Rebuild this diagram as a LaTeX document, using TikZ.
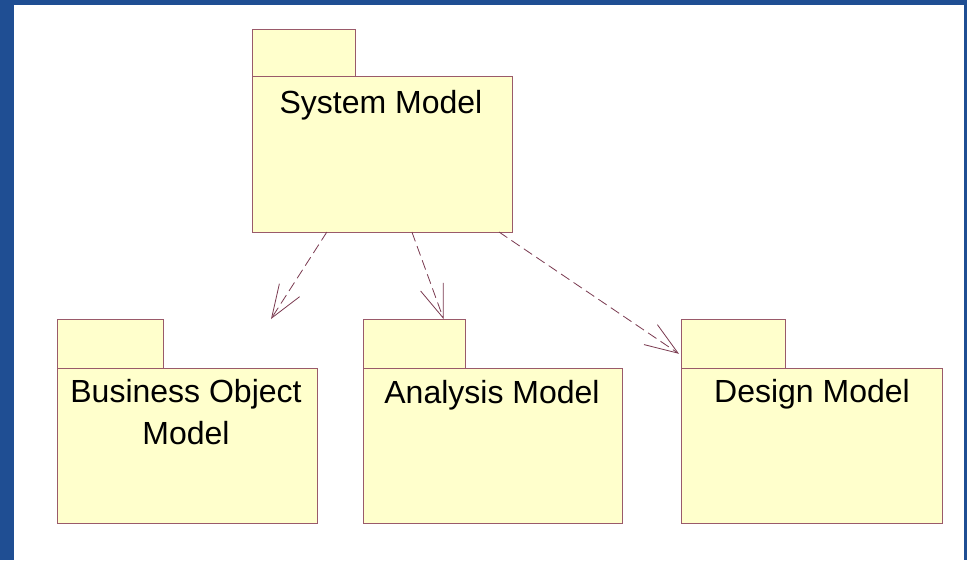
\documentclass[tikz,border=0pt]{standalone}
\usepackage{fontspec}
\setmainfont{Liberation Sans}
\usetikzlibrary{arrows.meta,calc}
\definecolor{bgblue}{HTML}{1F4E93}
\definecolor{pkgfill}{HTML}{FFFFCC}
\definecolor{pkgline}{HTML}{9A5A6A}
\definecolor{arrline}{HTML}{7A3A50}
\begin{document}
\begin{tikzpicture}[x=1pt,y=-1pt,
  pkgpart/.style={draw=pkgline, fill=pkgfill, line width=1pt, inner sep=0pt, outer sep=0pt, anchor=north west},
  pkglabel/.style={font=\fontsize{32}{42}\selectfont, inner sep=0pt, align=center},
  dep/.style={draw=arrline, line width=0.8pt, dash pattern=on 10pt off 5pt,
    -{Straight Barb[length=33pt,width=24pt,line width=0.8pt]}}]
  % background
  \fill[bgblue] (0,0) rectangle (967,560);
  \fill[white] (14,5) rectangle (964,560);
  \useasboundingbox (0,0) rectangle (967,560);

  % System Model
  \node[pkgpart, minimum width=103pt, minimum height=47pt] (systab) at (252,29) {};
  \node[pkgpart, minimum width=260pt, minimum height=156pt] (sysbody) at (252,76) {};
  \node[pkglabel, anchor=base] (syslabel) at (381,113) {System Model};

  % Business Object Model
  \node[pkgpart, minimum width=106pt, minimum height=49pt] (biztab) at (57,319) {};
  \node[pkgpart, minimum width=260pt, minimum height=155pt] (bizbody) at (57,368) {};
  \node[pkglabel, anchor=north] (bizlabel) at (186,379) {Business Object\\Model};

  % Analysis Model
  \node[pkgpart, minimum width=102pt, minimum height=49pt] (anatab) at (363,319) {};
  \node[pkgpart, minimum width=259pt, minimum height=155pt] (anabody) at (363,368) {};
  \node[pkglabel, anchor=base] (analabel) at (492,403) {Analysis Model};

  % Design Model
  \node[pkgpart, minimum width=104pt, minimum height=49pt] (destab) at (681,319) {};
  \node[pkgpart, minimum width=261pt, minimum height=155pt] (desbody) at (681,368) {};
  \node[pkglabel, anchor=base] (deslabel) at (812,402) {Design Model};

  % dependencies
  \coordinate (bizend) at (271,319);
  \draw[dep] ($(sysbody.south west)!0.288!(sysbody.south east)$) -- (bizend);
  \draw[dep] ($(sysbody.south west)!0.615!(sysbody.south east)$) -- ($(anatab.north west)!0.79!(anatab.north east)$);
  \draw[dep] ($(sysbody.south west)!0.95!(sysbody.south east)$) -- ($(destab.north west)!0.71!(destab.south west)+(-2,0)$);
\end{tikzpicture}
\end{document}
